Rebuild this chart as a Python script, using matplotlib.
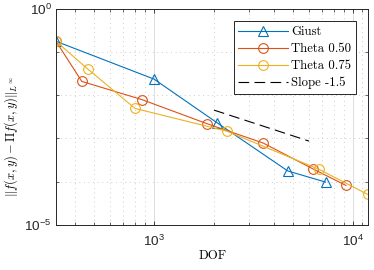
import matplotlib
matplotlib.use("Agg")
import matplotlib.pyplot as plt
from matplotlib.ticker import FixedLocator, NullFormatter, FixedFormatter

plt.rcParams['mathtext.fontset'] = 'cm'

# Data
giust_dof = [322, 1000, 2065, 4690, 7260]
giust_err = [0.175, 0.0234, 0.00232, 1.77e-4, 9.8e-5]

t50_dof = [322, 434, 867, 1838, 3532, 6254, 9190]
t50_err = [0.175, 0.0207, 0.0079, 0.0022, 7.8e-4, 1.99e-4, 8.2e-5]

t75_dof = [322, 464, 803, 2317, 6745, 11805]
t75_err = [0.175, 0.0403, 0.00492, 0.00147, 1.92e-4, 5.1e-5]

slope_dof = [2000, 6000]
slope_err = [4.5e-3, 8.66e-4]

labels = ["Giust", "Theta 0.50", "Theta 0.75", "Slope -1.5"]

c1 = '#0072BD'
c2 = '#D95319'
c3 = '#EDB120'

fig = plt.figure(figsize=(3.74, 2.70), dpi=100)
ax = fig.add_axes([0.1497, 0.1667, 0.9848 - 0.1497, 0.9685 - 0.1667])

lw = 0.8
ax.loglog(giust_dof, giust_err, '-^', color=c1, lw=lw, ms=7.5, mfc='none', mew=0.8, label=labels[0])
ax.loglog(t50_dof, t50_err, '-o', color=c2, lw=lw, ms=7, mfc='none', mew=0.8, label=labels[1])
ax.loglog(t75_dof, t75_err, '-o', color=c3, lw=lw, ms=7, mfc='none', mew=0.8, label=labels[2])
ax.loglog(slope_dof, slope_err, color='k', lw=lw, linestyle=(0, (9.6, 4.8)), label=labels[3])

ax.set_xlim(322, 11900)
ax.set_ylim(1e-5, 1e0)

# y ticks: major at ends, minor at each decade
ax.yaxis.set_major_locator(FixedLocator([1e-5, 1e0]))
ax.yaxis.set_minor_locator(FixedLocator([1e-4, 1e-3, 1e-2, 1e-1]))
ax.yaxis.set_minor_formatter(NullFormatter())
ax.yaxis.set_major_formatter(FixedFormatter([r'$\mathregular{10^{-5}}$', r'$\mathregular{10^{0}}$']))

ax.xaxis.set_major_locator(FixedLocator([1e3, 1e4]))
ax.xaxis.set_major_formatter(FixedFormatter([r'$\mathregular{10^{3}}$', r'$\mathregular{10^{4}}$']))
minors = [400, 500, 600, 700, 800, 900] + [k * 1000 for k in range(2, 10)] + [11000]
ax.xaxis.set_minor_locator(FixedLocator(minors))
ax.xaxis.set_minor_formatter(NullFormatter())

ax.grid(True, which='major', color='#dcdcdc', lw=0.7, ls='-')
ax.grid(True, which='minor', color='#bdbdbd', lw=0.6, ls=(0, (1, 4.5)))
ax.set_axisbelow(True)

ax.tick_params(which='both', direction='in', top=True, right=True, colors='#262626',
               labelsize=9.7, labelcolor='#262626')
ax.tick_params(which='major', length=3, width=0.6)
ax.tick_params(which='minor', length=2, width=0.5)
ax.tick_params(axis='x', which='major', pad=6)
ax.tick_params(axis='y', which='major', pad=3)
for lab in ax.get_xticklabels() + ax.get_yticklabels():
    lab.set_fontfamily('Liberation Sans')
for s in ax.spines.values():
    s.set_color('#262626')
    s.set_linewidth(0.7)

ax.set_xlabel('DOF', fontsize=9.2, fontfamily='cmr10', labelpad=1)
ax.set_ylabel(r'$\|f(x,y)-\Pi f(x,y)\|_{L^\infty}$', fontsize=9, labelpad=4)
ax.yaxis.set_label_coords(-0.115, 0.406)

leg = ax.legend(loc='upper right', bbox_to_anchor=(0.96, 0.94), borderaxespad=0,
                prop={'family': 'cmr10', 'size': 9.2}, fancybox=False, framealpha=1,
                edgecolor='#262626', handlelength=3.85, handletextpad=0.3,
                borderpad=0.35, labelspacing=0.38)
leg.get_frame().set_linewidth(0.7)

fig.savefig('out.png', dpi=100)
